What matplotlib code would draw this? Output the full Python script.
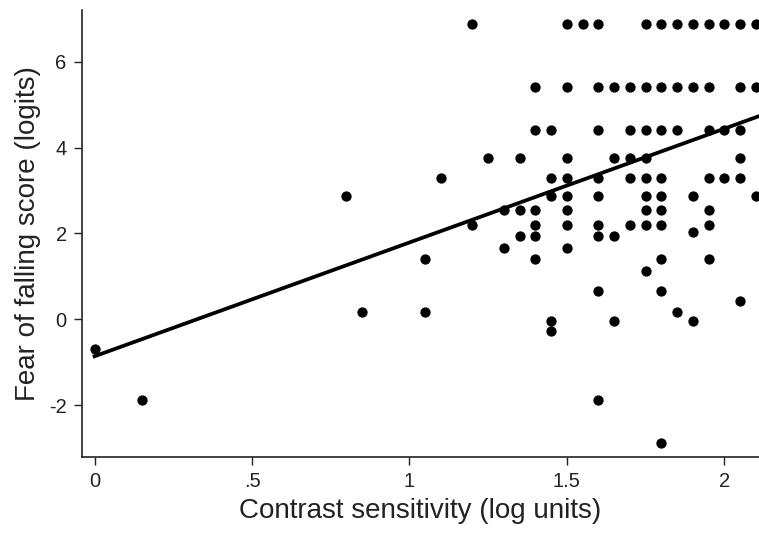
import numpy as np
import matplotlib
matplotlib.use('Agg')
import matplotlib.pyplot as plt

plt.rcParams['font.family'] = ['Liberation Sans', 'DejaVu Sans']
plt.rcParams['axes.unicode_minus'] = False

# Contrast sensitivity (log units) and fear of falling score (logits)
cs = [0.0, 0.15, 0.8, 0.85, 1.05, 1.05, 1.1, 1.2, 1.2, 1.25, 1.3, 1.3,
      1.35, 1.35, 1.35, 1.4, 1.4, 1.4, 1.4, 1.4, 1.4,
      1.45, 1.45, 1.45, 1.45, 1.45,
      1.5, 1.5, 1.5, 1.5, 1.5, 1.5, 1.5, 1.5,
      1.55,
      1.6, 1.6, 1.6, 1.6, 1.6, 1.6, 1.6, 1.6, 1.6,
      1.65, 1.65, 1.65, 1.65,
      1.7, 1.7, 1.7, 1.7, 1.7,
      1.75, 1.75, 1.75, 1.75, 1.75, 1.75, 1.75, 1.75, 1.75,
      1.8, 1.8, 1.8, 1.8, 1.8, 1.8, 1.8, 1.8, 1.8, 1.8,
      1.85, 1.85, 1.85, 1.85,
      1.9, 1.9, 1.9, 1.9, 1.9,
      1.95, 1.95, 1.95, 1.95, 1.95, 1.95, 1.95,
      2.0, 2.0, 2.0,
      2.05, 2.05, 2.05, 2.05, 2.05, 2.05,
      2.1, 2.1, 2.1]
ffs = [-0.7, -1.88, 2.87, 0.18, 1.4, 0.18, 3.28, 6.87, 2.2, 3.75, 2.55, 1.65,
       3.75, 2.55, 1.95, 5.4, 4.4, 2.55, 2.2, 1.95, 1.4,
       4.4, 3.28, 2.87, -0.03, -0.27,
       6.87, 5.4, 3.75, 3.28, 2.87, 2.55, 2.2, 1.65,
       6.87,
       6.87, 5.4, 4.4, 3.28, 2.87, 2.2, 1.95, 0.65, -1.88,
       5.4, 3.75, 1.95, -0.03,
       5.4, 4.4, 3.75, 3.28, 2.2,
       6.87, 5.4, 4.4, 3.75, 3.28, 2.87, 2.55, 2.2, 1.12,
       6.87, 5.4, 4.4, 3.28, 2.87, 2.55, 2.2, 1.4, 0.65, -2.88,
       6.87, 5.4, 4.4, 0.18,
       6.87, 5.4, 2.87, 2.03, -0.03,
       6.87, 5.4, 4.4, 3.28, 2.55, 2.2, 1.4,
       6.87, 4.4, 3.28,
       6.87, 5.4, 4.4, 3.75, 3.28, 0.42,
       6.87, 5.4, 2.87]

# fitted line
intercept = -0.86
slope = 2.65
line_x = [0.0, 2.11]

xticks = [0, 0.5, 1, 1.5, 2]
xticklabels = ['0', '.5', '1', '1.5', '2']
yticks = [-2, 0, 2, 4, 6]

fig = plt.figure(figsize=(7.59, 5.33), dpi=100)
ax = fig.add_axes([0.108, 0.143, 0.892, 0.838])

ax.scatter(cs, ffs, s=55, color='black', zorder=3, linewidths=0)
ax.plot(line_x, [intercept + slope * x for x in line_x], color='black', lw=2.7, zorder=2)

ax.set_xlim(-0.04, 2.11)
ax.set_ylim(-3.2, 7.2)
ax.set_xticks(xticks)
ax.set_xticklabels(xticklabels)
ax.set_yticks(yticks)
ax.tick_params(labelsize=14.5, length=6, width=1, direction='out', pad=5, colors='#222222')
ax.spines['top'].set_visible(False)
ax.spines['right'].set_visible(False)
for sp in ['left', 'bottom']:
    ax.spines[sp].set_linewidth(1.2)
    ax.spines[sp].set_color('#222222')
ax.set_xlabel('Contrast sensitivity (log units)', fontsize=20, labelpad=5, color='#222222')
ax.set_ylabel('Fear of falling score (logits)', fontsize=20, labelpad=6, color='#222222')

fig.savefig('out.png', dpi=100)
